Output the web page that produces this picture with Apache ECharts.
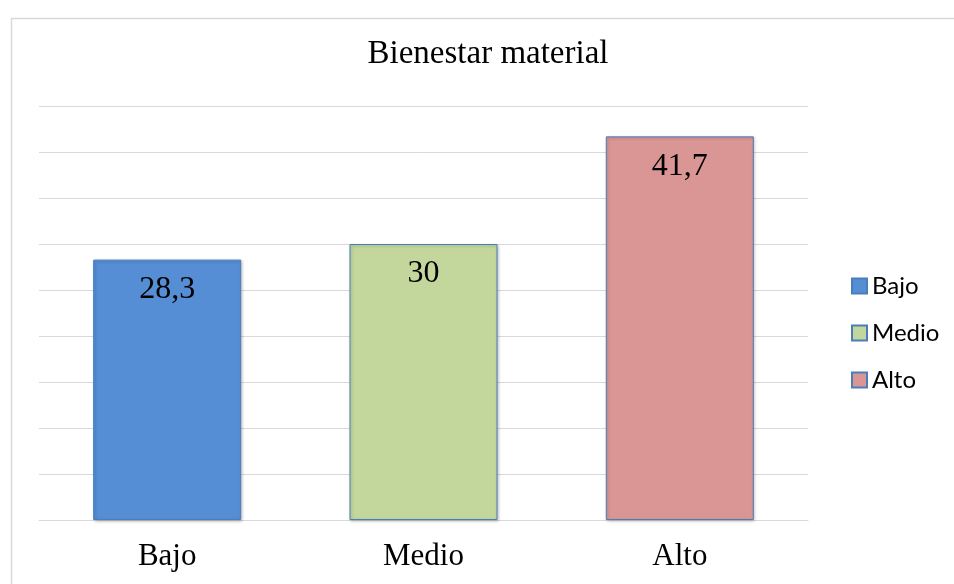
<!DOCTYPE html>
<html>
<head>
<meta charset="utf-8">
<title>Bienestar material</title>
<script src="https://cdn.jsdelivr.net/npm/echarts@6/dist/echarts.min.js"></script>
<style>
  html, body { margin: 0; padding: 0; background: #ffffff; }
  #chart { width: 954px; height: 584px; }
</style>
</head>
<body>
<div id="chart"></div>
<script>
// Categories and the percentage for each level
const categories = ['Bajo', 'Medio', 'Alto'];
const seriesNames = ['Bajo', 'Medio', 'Alto'];
const values = [28.3, 30, 41.7];
const colors = ['#558ED5', '#C3D69B', '#D99694'];

const serif = '"Liberation Serif", "Times New Roman", serif';

// One series per level so the legend lists each colour; each series only
// fills its own category, stacked so every bar sits centred on its tick.
const series = seriesNames.map((name, i) => ({
  name: name,
  type: 'bar',
  stack: 'nivel',
  barWidth: 148,
  data: categories.map((c, j) => (j === i ? values[i] : '-')),
  itemStyle: {
    color: colors[i],
    borderColor: '#4A7EBB',
    borderWidth: 1,
    shadowBlur: 3,
    shadowOffsetX: 1,
    shadowOffsetY: 1,
    shadowColor: 'rgba(0,0,0,0.25)'
  },
  label: {
    show: true,
    position: 'insideTop',
    distance: 14,
    fontFamily: serif,
    fontSize: 32,
    color: '#000000',
    formatter: p => String(p.value).replace('.', ',')
  }
}));

const chart = echarts.init(document.getElementById('chart'), null, { renderer: 'canvas' });
chart.setOption({
  animation: false,
  backgroundColor: '#ffffff',
  title: {
    text: 'Bienestar material',
    left: 488,
    top: 38,
    textAlign: 'center',
    padding: 0,
    textStyle: { fontFamily: serif, fontSize: 33, fontWeight: 'normal', color: '#000000' }
  },
  legend: {
    orient: 'vertical',
    left: 851,
    top: 274,
    itemWidth: 15,
    itemHeight: 15,
    itemGap: 23,
    padding: 0,
    icon: 'rect',
    textStyle: { fontFamily: 'Lato, "Open Sans", sans-serif', fontSize: 24, lineHeight: 24, color: '#000000' },
    data: seriesNames
  },
  grid: { left: 39, right: 146, top: 106, bottom: 64, containLabel: false },
  xAxis: {
    type: 'category',
    data: categories,
    axisLine: { show: true, lineStyle: { color: '#D9D9D9', width: 1 } },
    axisTick: { show: false },
    axisLabel: { margin: 21, fontFamily: serif, fontSize: 31, color: '#000000' }
  },
  yAxis: {
    type: 'value',
    min: 0,
    max: 45,
    interval: 5,
    axisLine: { show: false },
    axisTick: { show: false },
    axisLabel: { show: false },
    splitLine: { show: true, lineStyle: { color: '#D9D9D9', width: 1 } }
  },
  graphic: [{
    type: 'rect',
    left: 9,
    top: 16,
    shape: { width: 980, height: 620 },
    style: { fill: 'none', stroke: '#D9D9D9', lineWidth: 1.5 },
    silent: true
  }],
  series: series
});
</script>
</body>
</html>
